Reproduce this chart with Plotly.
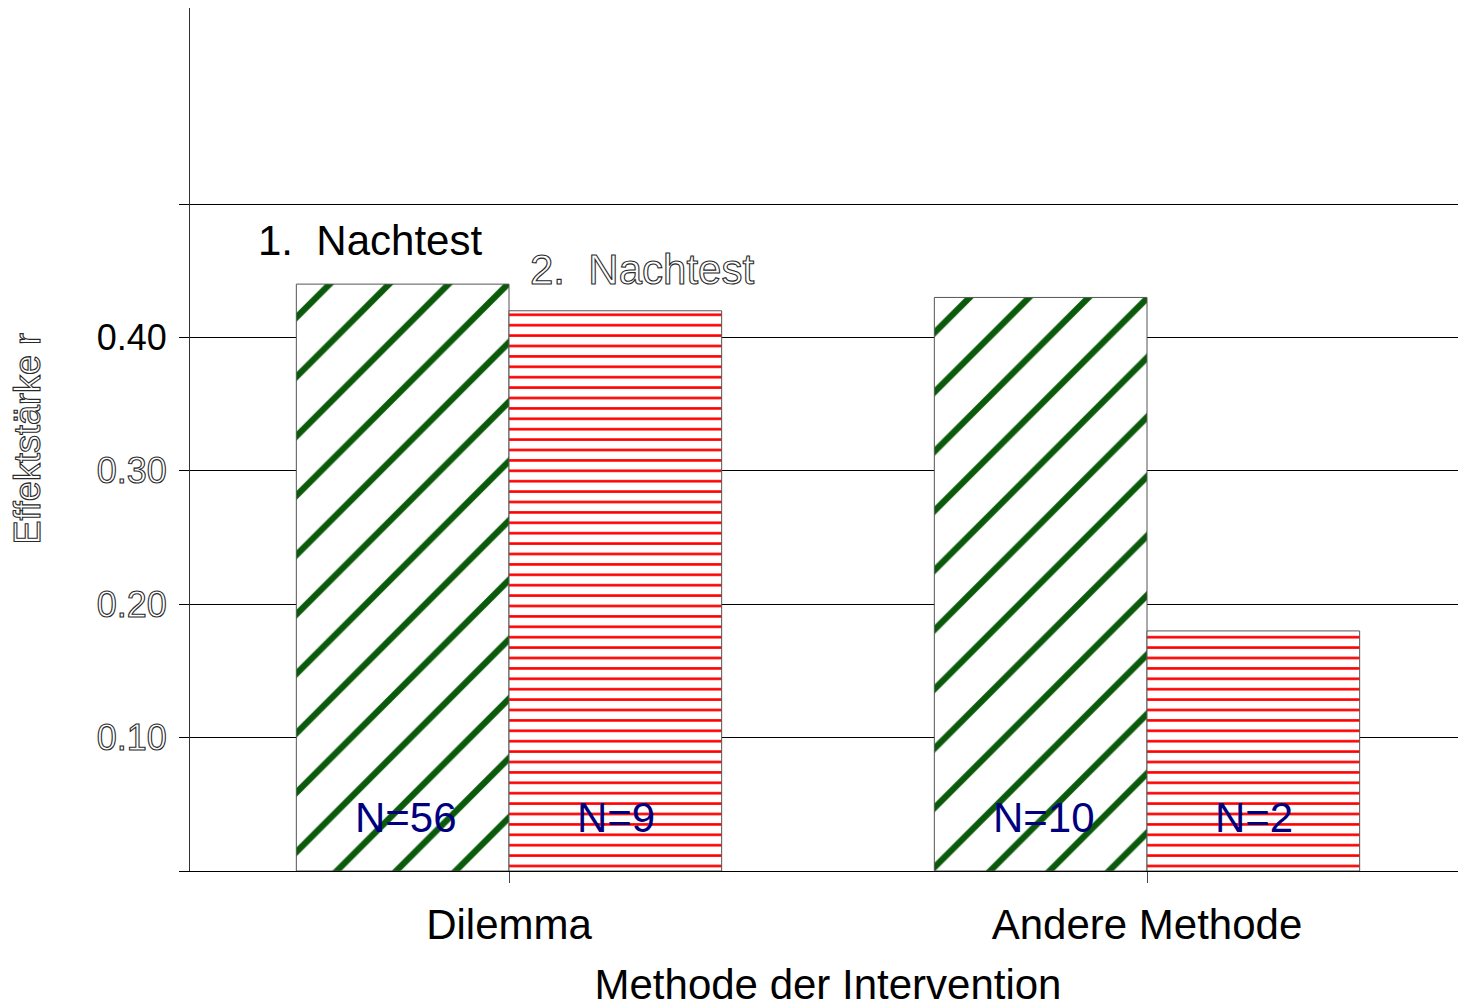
import plotly.graph_objects as go

# data
methods = ["Dilemma", "Andere Methode"]
series_names = ["1.\u00a0 Nachtest", "2.\u00a0 Nachtest"]
effect_first = [0.44, 0.43]
effect_second = [0.42, 0.18]
n_first = ["N=56", "N=10"]
n_second = ["N=9", "N=2"]
y_ticks = [0.0, 0.1, 0.2, 0.3, 0.4, 0.5]
y_ticklabels = ["", "0.10", "0.20", "0.30", "0.40", ""]
y_title = "Effektstärke r"

FONT = "Liberation Sans, Arial, sans-serif"
OUTLINE = "fill:white;stroke:#2a2a2a;stroke-width:1.1px"


def outlined(txt):
    return f'<span style="{OUTLINE}">{txt}</span>'


# 0.40 is drawn solid in the original, the others hollow
tick_text = [t if t in ("", "0.40") else outlined(t) for t in y_ticklabels]

fig = go.Figure()

fig.add_trace(go.Bar(
    x=methods, y=effect_first, name=series_names[0],
    marker=dict(
        color="white",
        line=dict(color="#555555", width=1),
        pattern=dict(shape="/", fgcolor="#0b5a0b", bgcolor="white",
                     size=42, solidity=0.15, fillmode="replace"),
    ),
    showlegend=False, hoverinfo="skip",
))
fig.add_trace(go.Bar(
    x=methods, y=effect_second, name=series_names[1],
    marker=dict(
        color="white",
        line=dict(color="#555555", width=1),
        pattern=dict(shape="-", fgcolor="#ff0000", bgcolor="white",
                     size=10.4, solidity=0.25, fillmode="replace"),
    ),
    showlegend=False, hoverinfo="skip",
))

# N labels near the bottom of each bar
half = 106.5
for i, m in enumerate(methods):
    for txt, shift in ((n_first[i], -half + 3), (n_second[i], half)):
        fig.add_annotation(x=m, y=0.04, text=txt, showarrow=False, xshift=shift,
                           font=dict(family=FONT, size=42, color="#00007f"))

# series labels above the Dilemma bars
fig.add_annotation(x=methods[0], y=0.473, text=series_names[0], showarrow=False,
                   xshift=-139, font=dict(family=FONT, size=42, color="black"))
fig.add_annotation(x=methods[0], y=0.451, text=outlined(series_names[1]), showarrow=False,
                   xshift=133, font=dict(family=FONT, size=42, color="white"))

# hollow y-axis title, placed by hand
fig.add_annotation(xref="paper", yref="paper", x=0, y=0.5, xanchor="center", yanchor="middle",
                   xshift=-163, textangle=-90, text=outlined(y_title), showarrow=False,
                   font=dict(family=FONT, size=36, color="white"))

fig.update_layout(
    width=1458, height=1000,
    margin=dict(l=182, r=0, t=0, b=137),
    paper_bgcolor="white", plot_bgcolor="white",
    barmode="group", bargap=1/3, bargroupgap=0,
    font=dict(family=FONT, color="black"),
    xaxis=dict(
        showline=True, linecolor="black", linewidth=1,
        ticks="outside", ticklen=11, tickcolor="#444444",
        tickfont=dict(size=42, color="black"),
        ticklabelstandoff=6,
        showgrid=False,
        title=dict(text="Methode der Intervention", font=dict(size=42, color="black"), standoff=30),
    ),
    yaxis=dict(
        range=[0, 0.647],
        tickmode="array", tickvals=y_ticks, ticktext=tick_text,
        ticks="outside", ticklen=10, tickcolor="black",
        tickfont=dict(size=36, color="black"),
        ticklabelstandoff=5,
        showgrid=True, gridcolor="black", gridwidth=1,
        showline=True, linecolor="#333333", linewidth=1,
        zeroline=False,
    ),
)

fig.write_html("out.html")
